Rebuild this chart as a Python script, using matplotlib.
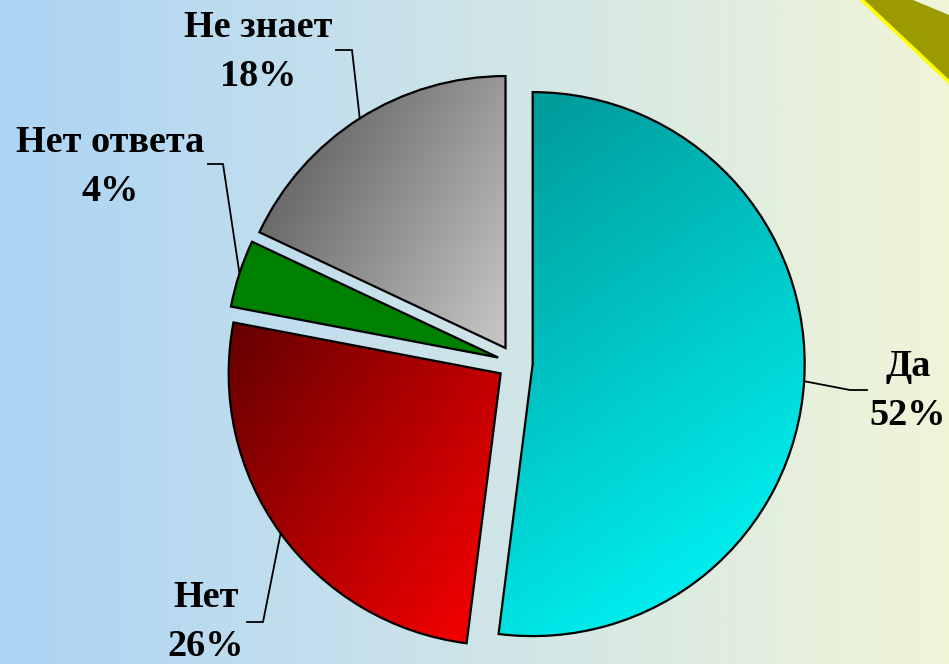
import numpy as np
import matplotlib
matplotlib.use('Agg')
import matplotlib.pyplot as plt
from matplotlib.colors import LinearSegmentedColormap
from matplotlib.patches import Polygon

# ---- data ----
labels = ['Да', 'Нет', 'Нет ответа', 'Не знает']
values = [52, 26, 4, 18]
pct_labels = ['52%', '26%', '4%', '18%']

# ---- layout (pixel units, y measured from top) ----
W, H = 949, 664
CX, CY_TOP, R = 515, 363, 272
EXPLODE = 17.7
label_pos = [(908, 391), (206, 622), (110, 167), (258, 52)]
leader_start = [(867, 390), (247, 622), (208, 164), (336, 50)]
leader_corner = [(850, 390), (263, 622), (223, 164), (352, 50)]

def px(p):
    return (p[0], H - p[1])

fig = plt.figure(figsize=(W / 100, H / 100), dpi=100)
ax = fig.add_axes([0, 0, 1, 1])

# background gradient
bg = LinearSegmentedColormap.from_list('bg', [(172/255, 212/255, 245/255),
                                              (206/255, 228/255, 232/255),
                                              (240/255, 245/255, 215/255)])
ax.imshow(np.linspace(0, 1, 512)[None, :], cmap=bg, extent=[0, W, 0, H],
          aspect='auto', zorder=0, interpolation='bilinear')

wedges, _ = ax.pie(values, startangle=90, counterclock=False,
                   explode=[EXPLODE] * len(values), center=(CX, H - CY_TOP),
                   radius=R,
                   colors=['none', 'none', (0, 0.5, 0), 'none'],
                   wedgeprops=dict(edgecolor='black', linewidth=1.6))
ax.set_xlim(0, W)
ax.set_ylim(0, H)
ax.set_aspect('auto')
ax.axis('off')

grad_specs = [
    ((0, 150/255, 150/255), (0, 1, 1), -55),
    ((100/255, 0, 0), (1, 0, 0), -35),
    None,
    ((80/255, 80/255, 80/255), (200/255, 200/255, 200/255), -30),
]

for w, spec in zip(wedges, grad_specs):
    w.set_zorder(3)
    if spec is None:
        continue
    c0, c1, ang = spec
    cx, cy = w.center
    th = np.radians(np.linspace(w.theta1, w.theta2, 100))
    xs = np.concatenate([[cx], cx + w.r * np.cos(th)])
    ys = np.concatenate([[cy], cy + w.r * np.sin(th)])
    x0, x1, y0, y1 = xs.min(), xs.max(), ys.min(), ys.max()
    gx, gy = np.meshgrid(np.linspace(x0, x1, 200), np.linspace(y0, y1, 200))
    a = np.radians(ang)
    t = gx * np.cos(a) + gy * np.sin(a)
    t = (t - t.min()) / (t.max() - t.min())
    cmap = LinearSegmentedColormap.from_list('g', [c0, c1])
    im = ax.imshow(t, cmap=cmap, extent=[x0, x1, y0, y1], origin='lower',
                   aspect='auto', zorder=2, interpolation='bilinear')
    im.set_clip_path(w)

# labels and leader lines
for w, lab, pct, lp, ls, lc in zip(wedges, labels, pct_labels, label_pos,
                                   leader_start, leader_corner):
    mid = np.radians((w.theta1 + w.theta2) / 2)
    anchor = (w.center[0] + w.r * np.cos(mid), w.center[1] + w.r * np.sin(mid))
    s, c = px(ls), px(lc)
    ax.plot([s[0], c[0], anchor[0]], [s[1], c[1], anchor[1]], color='black',
            lw=1.3, zorder=4, solid_joinstyle='miter')
    x, y = px(lp)
    ax.text(x, y, lab + '\n' + pct, ha='center', va='center', fontsize=27.5,
            fontweight='bold', family=['Liberation Serif', 'DejaVu Serif'],
            linespacing=1.55, zorder=5)

# decorative corner band (top-right)
band = [px((862, 0)), px((949, 82)), px((949, 15)), px((913, 0))]
ax.add_patch(Polygon(band, closed=True, facecolor=(155/255, 155/255, 0),
                     edgecolor='none', zorder=1))
ax.plot([862, 949], [H - 0, H - 82], color=(1, 1, 0), lw=2.5, zorder=1)

fig.savefig('out.png', dpi=100)
